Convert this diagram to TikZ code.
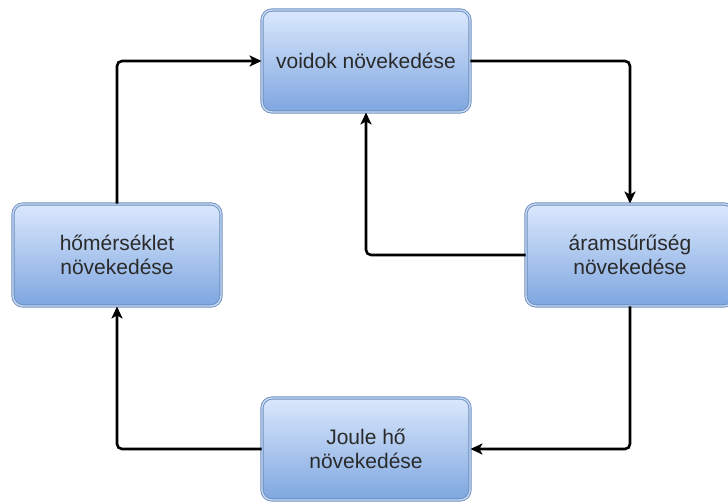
\documentclass[tikz,border=0pt]{standalone}
\usepackage{fontspec}
\setmainfont{Liberation Sans}
\usetikzlibrary{arrows.meta}
\definecolor{boxtop}{HTML}{DAE8FC}
\definecolor{boxbot}{HTML}{7EA6E0}
\definecolor{boxline}{HTML}{6C8EBF}
\definecolor{boxinner}{HTML}{C8DAF4}
\definecolor{txt}{HTML}{2A2A2A}
\begin{document}
\begin{tikzpicture}[x=1pt,y=-1pt,
  procbox/.style={draw=boxline, line width=0.9pt, double=boxinner, double distance=1.4pt,
    top color=boxtop, bottom color=boxbot, rounded corners=10pt,
    minimum width=208pt, minimum height=102pt, inner sep=0pt,
    align=center, text=txt, font=\fontsize{21}{24.5}\selectfont},
  conn/.style={draw=black, line width=2.6pt, rounded corners=5pt,
    -{Stealth[length=12pt,width=11pt,inset=3pt]}}
]
\useasboundingbox (0,0) rectangle (728,502);
\node[procbox] (T) at (366,61) {voidok növekedése};
\node[procbox] (L) at (117,255) {hőmérséklet\\növekedése};
\node[procbox] (R) at (630,255) {áramsűrűség\\növekedése};
\node[procbox] (B) at (366,449) {Joule hő\\növekedése};
\draw[conn] (L.north) |- (T.west);
\draw[conn] (T.east) -| (R.north);
\draw[conn] (R.south) |- (B.east);
\draw[conn] (B.west) -| (L.south);
\draw[conn] (R.west) -| (T.south);
\end{tikzpicture}
\end{document}
